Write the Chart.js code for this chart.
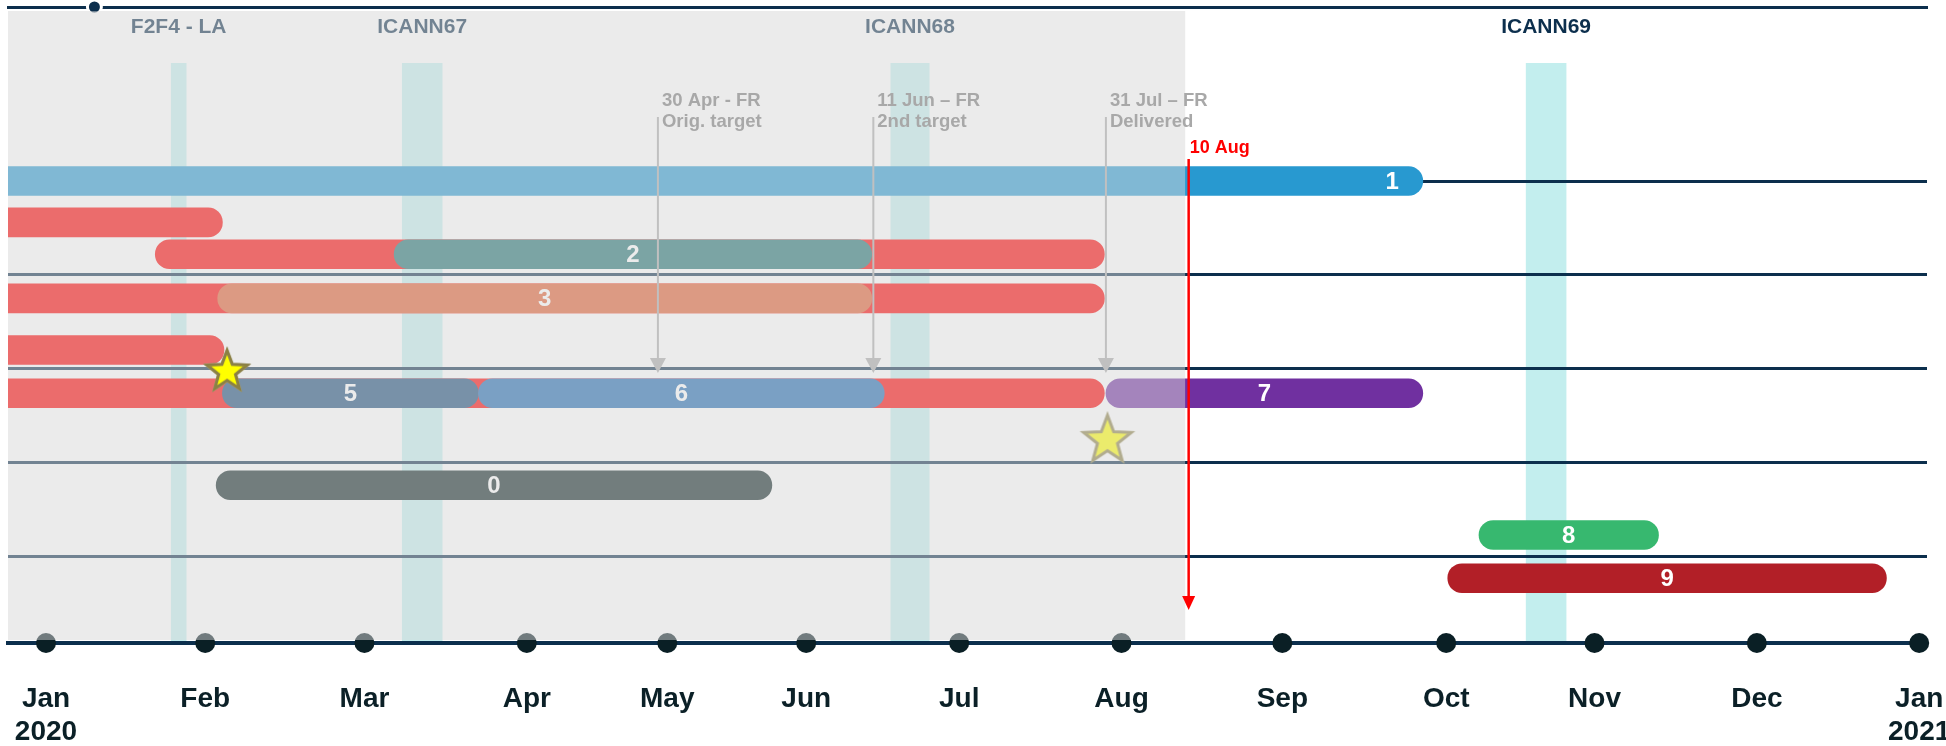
<!DOCTYPE html>
<html>
<head>
<meta charset="utf-8">
<title>Timeline</title>
<script src="https://cdn.jsdelivr.net/npm/chart.js@4/dist/chart.umd.min.js"></script>
<style>
  html, body { margin: 0; padding: 0; background: #fff; overflow: hidden; }
  .wrap { position: relative; width: 1946px; height: 746px; }
</style>
</head>
<body>
<div class="wrap"><canvas id="timeline"></canvas></div>
<script>
// x unit: months from 1 Jan 2020, where the slide puts them
const monthLabels = [['Jan', '2020'], 'Feb', 'Mar', 'Apr', 'May', 'Jun', 'Jul', 'Aug', 'Sep', 'Oct', 'Nov', 'Dec', ['Jan', '2021']];
const monthTicks = [0, 1.02, 2.04, 3.08, 3.98, 4.87, 5.85, 6.89, 7.92, 8.97, 9.92, 10.96, 12.0];

// work bars (start -1 = runs in from before the visible range)
const barNames = ['1', '', '', '2', '', '3', '', '', '5', '6', '7', '0', '8', '9'];
const barStarts = [-1, -1, 0.70, 2.23, -1, 1.10, -1, -1, 1.13, 2.77, 6.79, 1.09, 9.18, 8.98];
const barEnds = [8.82, 1.13, 6.78, 5.29, 6.78, 5.29, 1.14, 6.78, 2.77, 5.37, 8.82, 4.65, 10.33, 11.79];
const barLanes = [1.0, 1.44, 1.78, 1.78, 2.25, 2.25, 2.8, 3.26, 3.26, 3.26, 3.26, 4.24, 4.77, 5.23];
const barColors = ['#2899d0', '#ff0000', '#ff0000', '#1f7171', '#ff0000', '#e15d2f', '#ff0000', '#ff0000',
  '#194b79', '#1d69b1', '#7030a0', '#0d2323', '#37b86f', '#b21f27'];

const laneLines = [1, 2, 3, 4, 5];

const meetingNames = ['F2F4 - LA', 'ICANN67', 'ICANN68', 'ICANN69'];
const meetingStarts = [0.80, 2.28, 5.41, 9.48];
const meetingEnds = [0.90, 2.54, 5.66, 9.74];

const frMonths = [3.92, 5.30, 6.79];
const frTexts = [['30 Apr - FR', 'Orig. target'], ['11 Jun – FR', '2nd target'], ['31 Jul – FR', 'Delivered']];

const starMonths = [1.16, 6.80];
const starLanes = [3.03, 3.76];

const kickoffMonth = 0.31;
const todayMonth = 7.32;
const todayLabel = '10 Aug';

const X_MIN = -0.2435, X_MAX = 12.05;
const Y_MIN = -0.853, Y_MAX = 5.92;

const NAVY = '#0c2f4d';
const FONT = '"Liberation Sans", Arial, Helvetica, sans-serif';

function starImage(outer) {
  const lw = 3;
  const size = Math.ceil(2 * (outer + 8));
  const c = document.createElement('canvas');
  c.width = size;
  c.height = size;
  const g = c.getContext('2d');
  g.translate(size / 2, size / 2);
  const inner = outer * 0.42;
  g.beginPath();
  for (let i = 0; i < 10; i++) {
    const r = i % 2 ? inner : outer;
    const a = -Math.PI / 2 + i * Math.PI / 5;
    g.lineTo(r * Math.cos(a), r * Math.sin(a));
  }
  g.closePath();
  g.fillStyle = '#ffff00';
  g.fill();
  g.lineWidth = lw;
  g.strokeStyle = '#8b8045';
  g.stroke();
  return c;
}

const backdrop = {
  id: 'backdrop',
  beforeDraw(chart) {
    const { ctx, chartArea: a, scales: { x } } = chart;
    ctx.save();
    ctx.fillStyle = '#fff';
    ctx.fillRect(0, 0, chart.width, chart.height);
    ctx.fillStyle = '#c3eeee';
    const top = a.top + 56;
    meetingStarts.forEach((s, i) => {
      const x0 = x.getPixelForValue(s);
      const x1 = x.getPixelForValue(meetingEnds[i]);
      ctx.fillRect(x0, top, x1 - x0, a.bottom - 2 - top);
    });
    ctx.restore();
  },
};

const annotations = {
  id: 'annotations',
  afterDatasetsDraw(chart) {
    const { ctx, chartArea: a, scales: { x, y } } = chart;
    ctx.save();

    // numbers on the bars
    ctx.font = `bold 24px ${FONT}`;
    ctx.fillStyle = '#fff';
    ctx.textBaseline = 'middle';
    chart.getDatasetMeta(0).data.forEach((bar, i) => {
      if (!barNames[i]) return;
      const p = bar.getProps(['x', 'base', 'y'], true);
      if (barStarts[i] < X_MIN) {
        ctx.textAlign = 'right';
        ctx.fillText(barNames[i], p.x - 24, p.y + 1);
      } else {
        ctx.textAlign = 'center';
        ctx.fillText(barNames[i], (p.x + p.base) / 2, p.y + 1);
      }
    });

    // meeting names
    ctx.font = `bold 21px ${FONT}`;
    ctx.fillStyle = NAVY;
    ctx.textAlign = 'center';
    ctx.textBaseline = 'alphabetic';
    meetingNames.forEach((n, i) => {
      const cx = (x.getPixelForValue(meetingStarts[i]) + x.getPixelForValue(meetingEnds[i])) / 2;
      ctx.fillText(n, cx, a.top + 26);
    });

    // past period shade
    const tx = x.getPixelForValue(todayMonth);
    ctx.fillStyle = 'rgba(215,215,215,0.5)';
    ctx.fillRect(a.left, a.top + 4, tx - 3.5 - a.left, a.bottom - 3 - (a.top + 4));

    // highlighted milestone stays bright
    chart.getDatasetMeta(3).data[0].draw(ctx, a);

    // FR arrows
    const arrowTop = a.top + 110;
    const arrowTip = y.getPixelForValue(3.045);
    ctx.strokeStyle = '#c0c0c0';
    ctx.fillStyle = '#c0c0c0';
    ctx.lineWidth = 2;
    frMonths.forEach((m) => {
      const px = x.getPixelForValue(m);
      ctx.beginPath();
      ctx.moveTo(px, arrowTop);
      ctx.lineTo(px, arrowTip - 12);
      ctx.stroke();
      ctx.beginPath();
      ctx.moveTo(px - 8, arrowTip - 15);
      ctx.lineTo(px + 8, arrowTip - 15);
      ctx.lineTo(px, arrowTip);
      ctx.closePath();
      ctx.fill();
    });
    ctx.font = `bold 18.5px ${FONT}`;
    ctx.fillStyle = '#a8a8a8';
    ctx.textAlign = 'left';
    frMonths.forEach((m, i) => {
      const px = x.getPixelForValue(m) + 4;
      ctx.fillText(frTexts[i][0], px, a.top + 98.7);
      ctx.fillText(frTexts[i][1], px, a.top + 120.3);
    });

    // today marker
    ctx.strokeStyle = '#ff0000';
    ctx.fillStyle = '#ff0000';
    ctx.lineWidth = 2.5;
    const lineTop = a.top + 152;
    const tip = a.bottom - 33;
    ctx.beginPath();
    ctx.moveTo(tx, lineTop);
    ctx.lineTo(tx, tip - 10);
    ctx.stroke();
    ctx.beginPath();
    ctx.moveTo(tx - 6.5, tip - 14);
    ctx.lineTo(tx + 6.5, tip - 14);
    ctx.lineTo(tx, tip);
    ctx.closePath();
    ctx.fill();
    ctx.font = `bold 18px ${FONT}`;
    ctx.textAlign = 'left';
    ctx.fillText(todayLabel, tx + 1, a.top + 146);

    ctx.restore();
  },
  afterDraw(chart) {
    const { ctx, scales: { x } } = chart;
    ctx.save();
    ctx.font = `bold 28px ${FONT}`;
    ctx.fillStyle = '#0b2027';
    ctx.textAlign = 'center';
    monthTicks.forEach((m, i) => {
      const px = x.getPixelForValue(m);
      const lines = [].concat(monthLabels[i]);
      lines.forEach((t, k) => ctx.fillText(t, px, 707 + k * 33));
    });
    ctx.restore();
  },
};

new Chart(document.getElementById('timeline'), {
  type: 'bar',
  data: {
    datasets: [
      {
        type: 'bar',
        indexAxis: 'y',
        data: barNames.map((n, i) => ({ x: [barStarts[i], barEnds[i]], y: barLanes[i] })),
        backgroundColor: barColors,
        barThickness: 29,
        borderRadius: 15,
        borderSkipped: false,
        order: 4,
      },
      {
        type: 'scatter',
        data: monthTicks.map((m) => ({ x: m, y: Y_MAX })),
        pointRadius: 10,
        pointBackgroundColor: '#0a1f25',
        pointBorderWidth: 0,
        clip: false,
        order: 3,
      },
      {
        type: 'scatter',
        data: [{ x: kickoffMonth, y: Y_MIN }],
        pointRadius: 7,
        pointBackgroundColor: NAVY,
        pointBorderColor: '#fff',
        pointBorderWidth: 3,
        clip: false,
        order: 2,
      },
      {
        type: 'scatter',
        data: starMonths.map((m, i) => ({ x: m, y: starLanes[i] })),
        pointStyle: [starImage(21), starImage(25)],
        pointRadius: 20,
        clip: false,
        order: 1,
      },
    ],
  },
  options: {
    responsive: true,
    maintainAspectRatio: false,
    devicePixelRatio: 1,
    animation: false,
    events: [],
    layout: {
      autoPadding: false,
      padding: { top: 7, left: 8, right: 19, bottom: 103 },
    },
    scales: {
      x: {
        type: 'linear',
        position: 'bottom',
        min: X_MIN,
        max: X_MAX,
        offset: false,
        ticks: { display: false },
        grid: { display: false, drawTicks: false, offset: false },
        border: { display: true, color: NAVY, width: 4 },
      },
      x2: {
        type: 'linear',
        position: 'top',
        min: X_MIN,
        max: X_MAX,
        ticks: { display: false },
        grid: { display: false, drawTicks: false },
        border: { display: true, color: NAVY, width: 3 },
      },
      y: {
        type: 'linear',
        reverse: true,
        min: Y_MIN,
        max: Y_MAX,
        offset: false,
        afterBuildTicks: (scale) => {
          scale.ticks = laneLines.map((v) => ({ value: v }));
        },
        ticks: { display: false },
        grid: { color: NAVY, lineWidth: 3, drawTicks: false, offset: false },
        border: { display: false },
      },
    },
    plugins: {
      legend: { display: false },
      tooltip: { enabled: false },
    },
  },
  plugins: [backdrop, annotations],
});
</script>
</body>
</html>
